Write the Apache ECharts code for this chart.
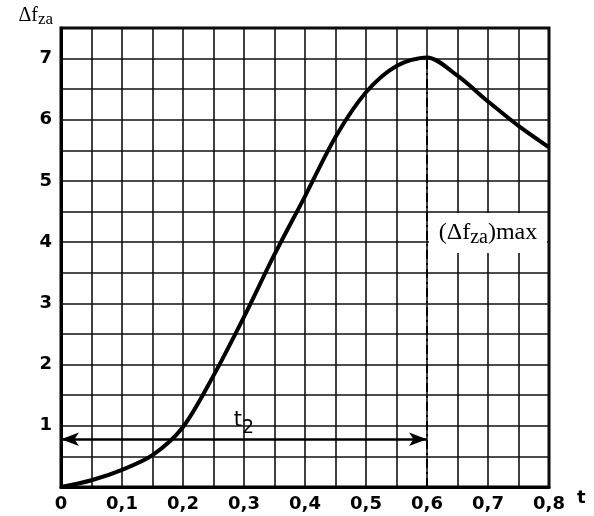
<!DOCTYPE html>
<html>
<head>
<meta charset="utf-8">
<style>
  html, body { margin: 0; padding: 0; background: #fff; }
  #chart { width: 594px; height: 516px; }
</style>
<script src="https://cdn.jsdelivr.net/npm/echarts@6/dist/echarts.min.js"></script>
</head>
<body>
<div id="chart"></div>
<script>
// valores
var tiempo = [0, 0.05, 0.1, 0.15, 0.2, 0.25, 0.3, 0.35, 0.4, 0.45, 0.5, 0.55, 0.6, 0.65, 0.7, 0.75, 0.8];
var deltaFza = [0, 0.11, 0.28, 0.52, 0.98, 1.82, 2.78, 3.8, 4.75, 5.72, 6.45, 6.88, 7.02, 6.72, 6.3, 5.9, 5.55];
var tMax = 0.6;
var fMax = 7.02;
var nivelT2 = 0.78;

var puntos = tiempo.map(function (t, i) { return [t, deltaFza[i]]; });

var dom = document.getElementById('chart');
var myChart = echarts.init(dom);
var fuenteEje = 'DejaVu Sans';
var fuenteSerif = 'Liberation Serif';

var option = {
	animation: false,
	grid: {
		left: 61,
		right: 45,
		top: 28,
		bottom: 29,
		show: true,
		borderColor: '#000',
		borderWidth: 3
	},
	xAxis: {
		type: 'value',
		min: 0,
		max: 0.8,
		interval: 0.05,
		name: 't',
		nameLocation: 'end',
		nameGap: 28,
		nameTextStyle: {
			fontFamily: fuenteEje,
			fontWeight: 'bold',
			fontSize: 18,
			color: '#000',
			verticalAlign: 'top',
			padding: [2, 0, 0, 0]
		},
		axisLine: { show: true, lineStyle: { color: '#000', width: 3 } },
		axisTick: { show: false },
		axisLabel: {
			margin: 8,
			fontFamily: fuenteEje,
			fontWeight: 'bold',
			fontSize: 18,
			color: '#000',
			formatter: function (v) {
				var c = Math.round(v * 100);
				if (c === 0) return '0';
				if (c % 10 !== 0) return '';
				return (c / 100).toFixed(1).replace('.', ',');
			}
		},
		splitLine: { show: true, lineStyle: { color: '#111', width: 1.6 } }
	},
	yAxis: {
		type: 'value',
		min: 0,
		max: 7.5,
		interval: 0.5,
		name: '{d|Δf}{s|za}',
		nameLocation: 'end',
		nameGap: 0,
		nameTextStyle: {
			align: 'right',
			padding: [0, 8, 0, 0],
			rich: {
				d: { fontFamily: fuenteSerif, fontSize: 20, color: '#000' },
				s: { fontFamily: fuenteSerif, fontSize: 17, color: '#000', padding: [8, 0, 0, 0] }
			}
		},
		axisLine: { show: true, lineStyle: { color: '#000', width: 3 } },
		axisTick: { show: false },
		axisLabel: {
			margin: 9,
			fontFamily: fuenteEje,
			fontWeight: 'bold',
			fontSize: 18,
			color: '#000',
			formatter: function (v) {
				if (v === 0 || Math.round(v * 10) % 10 !== 0) return '';
				return String(Math.round(v));
			}
		},
		splitLine: { show: true, lineStyle: { color: '#111', width: 1.6 } }
	},
	series: [
		{
			type: 'line',
			data: puntos,
			smooth: 0.3,
			symbol: 'none',
			lineStyle: { color: '#000', width: 4 },
			z: 3,
			markLine: {
				silent: true,
				animation: false,
				data: [
					[
						{ coord: [tMax, 0], symbol: 'none', lineStyle: { type: [9, 4, 2, 4], width: 2, color: '#000' } },
						{ coord: [tMax, fMax], symbol: 'none' }
					],
					[
						{
							coord: [0, nivelT2],
							symbol: 'arrow',
							symbolSize: [10, 18],
							lineStyle: { type: 'solid', width: 2.5, color: '#000' },
							label: {
								show: true,
								position: 'middle',
								distance: 2,
								formatter: '{t|t}{n|2}',
								rich: {
									t: { fontFamily: fuenteEje, fontSize: 21, color: '#000' },
									n: { fontFamily: fuenteEje, fontSize: 19, color: '#000', padding: [14, 0, 0, 0] }
								}
							}
						},
						{ coord: [tMax, nivelT2], symbol: 'arrow', symbolSize: [10, 18] }
					]
				]
			},
			markPoint: {
				silent: true,
				animation: false,
				data: [
					{
						coord: [0.7, 4.15],
						symbol: 'rect',
						symbolSize: [118, 40],
						itemStyle: { color: '#fff' },
						label: {
							show: true,
							position: 'inside',
							formatter: '{p|(Δf}{s|za}{p|)max}',
							rich: {
								p: { fontFamily: fuenteSerif, fontSize: 24, color: '#000' },
								s: { fontFamily: fuenteSerif, fontSize: 20, color: '#000', padding: [9, 0, 0, 0] }
							}
						}
					}
				]
			}
		}
	]
};

if (option && typeof option === 'object') {
	myChart.setOption(option, true);
}
</script>
</body>
</html>
